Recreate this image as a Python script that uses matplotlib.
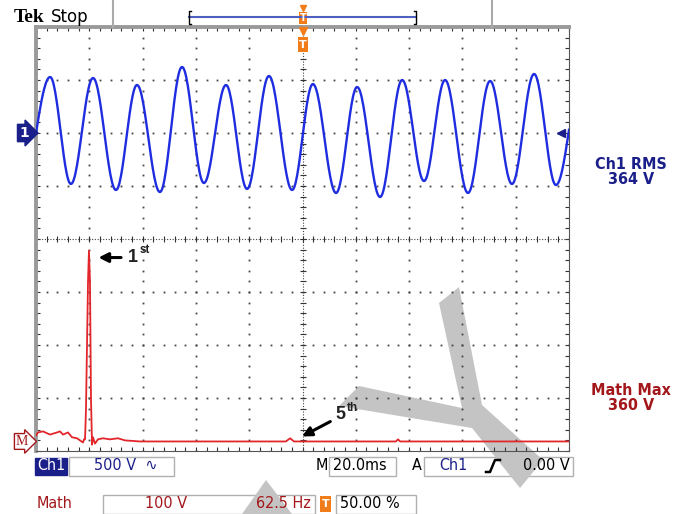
import numpy as np
import matplotlib.pyplot as plt
import matplotlib.transforms as mtransforms
from matplotlib.patches import Polygon, Rectangle
from matplotlib.lines import Line2D

# scope settings
ms_per_div = 20.0
ch1_v_per_div = 500.0
ch1_pos = 2.0          # divisions above centre
math_hz_per_div = 62.5
math_v_per_div = 100.0
math_pos = -3.82

# Ch1 trace: extrema (ms, V)
ch1_start = (0.0, 0.0)
ch1_end = (200.0, 30.0)
ch1_peak_t = [5.3, 21.4, 37.9, 54.8, 71.3, 87.4, 103.9, 120.5, 137.4, 153.5, 170.4, 186.9]
ch1_peak_v = [528, 519, 453, 623, 453, 538, 462, 434, 500, 500, 491, 557]
ch1_trough_t = [13.1, 30.0, 46.5, 63.0, 79.2, 96.1, 112.6, 129.1, 145.6, 162.1, 178.6, 195.1]
ch1_trough_v = [-481, -538, -557, -472, -528, -538, -566, -604, -453, -566, -481, -491]

# Math (FFT of Ch1): frequency (Hz), magnitude (V)
fft_freq = [0, 2.3, 8.2, 16.4, 24.6, 28.1, 31.7, 37.5, 42.2, 48.1, 51.6, 55.1, 56.3, 57.5,
            58.6, 59.8, 61.0, 62.1, 63.3, 64.5, 65.7, 66.8, 69.2, 72.7, 78.6, 86.8, 96.2,
            104.4, 122, 293, 298, 302.5, 422, 424.5, 427, 625]
fft_mag = [11, 17, 19, 13, 17, 19, 13, 17, 8, 6, 2, -2, 4, 4,
           60, 181, 302, 360, 302, 79, -6, 8, -4, 4, 6, 4, 6,
           2, 0, 0, 6, 0, 0, 4, 0, 0]

ch1_rms = "364 V"
math_max = "360 V"

W, H = 684, 514
NAVY = '#1a1f8a'
BLUE = '#1f2de0'
RED = '#e3262b'
DRED = '#a3171b'
ORANGE = '#f07d1a'
FONT = 'DejaVu Sans'
COND = dict(family=FONT, stretch='condensed')


def P(x, y):
    return (x / W, 1 - y / H)


fig = plt.figure(figsize=(W / 100, H / 100), dpi=100)
L, R, T, B = 36, 569, 27, 451
rect = [L / W, 1 - B / H, (R - L) / W, (B - T) / H]

# graticule
ax = fig.add_axes(rect)
ax.patch.set_visible(False)
ax.set_xlim(0, 10)
ax.set_ylim(-4, 4)
ax.set_xticks(np.arange(0, 10.01, 0.2))
ax.set_yticks(np.arange(-4, 4.01, 0.2))
ax.tick_params(direction='in', length=3, width=0.8, color='#333', top=True, right=True,
               labelbottom=False, labelleft=False)
for s in ['left', 'top']:
    ax.spines[s].set_color('#9a9a9a')
    ax.spines[s].set_linewidth(2.8)
for s in ['right', 'bottom']:
    ax.spines[s].set_color('#555')
    ax.spines[s].set_linewidth(0.8)
fine = np.arange(0, 10.001, 0.2)
fine_y = np.arange(-4, 4.001, 0.2)
for k in range(-3, 4):
    if k != 0:
        ax.plot(fine, np.full_like(fine, k), ls='none', marker='s', ms=1.3, color='#444', mew=0)
for k in range(1, 10):
    if k != 5:
        ax.plot(np.full_like(fine_y, k), fine_y, ls='none', marker='s', ms=1.3, color='#444', mew=0)
ax.plot([0, 10], [0, 0], ls=(0, (1, 1.5)), lw=0.8, color='#444')
ax.plot([5, 5], [-4, 4], ls=(0, (1, 1.5)), lw=0.8, color='#444')
ax.plot(fine, np.zeros_like(fine), ls='none', marker='|', ms=4, mew=0.8, color='#333')
ax.plot(np.full_like(fine_y, 5), fine_y, ls='none', marker='_', ms=4, mew=0.8, color='#333')
ax.set_zorder(0)

# watermark, under the graticule and traces
wm = Polygon([P(439, 303), P(459, 287), P(482, 405), P(543, 460), P(520, 488), P(472, 428),
              P(339, 406), P(359, 386), P(462, 408)], closed=True, transform=fig.transFigure,
             fc='#c4c4c4', ec='none', zorder=0.1, clip_on=False)
ax.add_artist(wm)
wm2 = Polygon([P(242, 514), P(266, 480), P(292, 514)], closed=True, transform=fig.transFigure,
              fc='#c4c4c4', ec='none', zorder=0.1, clip_on=False)
ax.add_artist(wm2)

# Ch1 trace
ax_ch1 = fig.add_axes(rect, frameon=False)
ax_ch1.set_xlim(0, 10 * ms_per_div)
ax_ch1.set_ylim((-4 - ch1_pos) * ch1_v_per_div, (4 - ch1_pos) * ch1_v_per_div)
ax_ch1.axis('off')
ax_ch1.set_zorder(1)
pts = [ch1_start]
for i in range(len(ch1_peak_t)):
    pts.append((ch1_peak_t[i], ch1_peak_v[i]))
    pts.append((ch1_trough_t[i], ch1_trough_v[i]))
pts.append(ch1_end)
tt, vv = [], []
for i in range(len(pts) - 1):
    (t0, v0), (t1, v1) = pts[i], pts[i + 1]
    s = np.linspace(0, 1, 30)
    if i == 0:
        w = np.sin(np.pi / 2 * s)
    elif i == len(pts) - 2:
        w = 1 - np.cos(np.pi / 2 * s)
    else:
        w = (1 - np.cos(np.pi * s)) / 2
    tt.extend(t0 + (t1 - t0) * s)
    vv.extend(v0 + (v1 - v0) * w)
ax_ch1.plot(tt, vv, color=BLUE, lw=1.7)
ax_ch1.plot(0.985 * 10 * ms_per_div, 0, marker='<', ms=6, color=NAVY, clip_on=False)

# Math trace
ax_m = fig.add_axes(rect, frameon=False)
ax_m.set_xlim(0, 10 * math_hz_per_div)
ax_m.set_ylim((-4 - math_pos) * math_v_per_div, (4 - math_pos) * math_v_per_div)
ax_m.axis('off')
ax_m.set_zorder(1)
ax_m.plot(fft_freq, fft_mag, color=RED, lw=1.3)

# harmonic labels
ax_m.annotate('', xy=(70, 347), xytext=(103, 347),
              arrowprops=dict(arrowstyle='-|>', lw=2.2, color='k', mutation_scale=14))
ax_m.text(108, 347, '1', fontsize=13, fontweight='bold', family='Liberation Sans', va='center', color='#222')
ax_m.text(121, 361, 'st', fontsize=8.5, fontweight='bold', family='Liberation Sans', va='center', color='#222')
ax_m.annotate('', xy=(309, 7), xytext=(348, 40),
              arrowprops=dict(arrowstyle='-|>', lw=2.2, color='k', mutation_scale=14))
ax_m.text(351, 50, '5', fontsize=13, fontweight='bold', family='Liberation Sans', va='center', color='#222')
ax_m.text(364, 64, 'th', fontsize=8.5, fontweight='bold', family='Liberation Sans', va='center', color='#222')

# channel markers on the left
tr1 = mtransforms.blended_transform_factory(fig.transFigure, ax_ch1.transData)
fig.text(24 / W, 0, '1', transform=tr1, ha='center', va='center', color='white', fontsize=10,
         fontweight='bold', bbox=dict(boxstyle='rarrow,pad=0.12', fc=NAVY, ec=NAVY))
trm = mtransforms.blended_transform_factory(fig.transFigure, ax_m.transData)
fig.text(22 / W, 0, 'M', transform=trm, ha='center', va='center', color=DRED, fontsize=10,
         family='Liberation Serif', bbox=dict(boxstyle='rarrow,pad=0.1', fc='white', ec=DRED, lw=1))

# header
fig.text(*P(14, 17), 'Tek', fontsize=14, fontweight='bold', va='center', color='black',
         family='Liberation Serif')
fig.text(*P(51, 17), 'Stop', fontsize=12, va='center', family=FONT, color='black')
fig.add_artist(Line2D([113 / W, 113 / W], [1, 1 - 27 / H], color='#aaa', lw=1.5))
fig.add_artist(Line2D([492 / W, 492 / W], [1, 1 - 27 / H], color='#aaa', lw=1.5))
fig.add_artist(Line2D([189 / W, 416 / W], [1 - 17 / H] * 2, color='#5060c0', lw=1.5))
fig.add_artist(Line2D([191 / W, 189 / W, 189 / W, 191 / W],
                      [1 - 11 / H, 1 - 11 / H, 1 - 24 / H, 1 - 24 / H], color='k', lw=1))
fig.add_artist(Line2D([414 / W, 416 / W, 416 / W, 414 / W],
                      [1 - 11 / H, 1 - 11 / H, 1 - 24 / H, 1 - 24 / H], color='k', lw=1))
fig.add_artist(Rectangle(P(299, 24), 8 / W, 12 / H, transform=fig.transFigure, fc=ORANGE, ec='none'))
fig.text(*P(303, 18), 'T', fontsize=7, fontweight='bold', color='white', ha='center', va='center')
fig.add_artist(Line2D([303 / W], [1 - 8 / H], marker='v', ms=5, color=ORANGE, transform=fig.transFigure))
fig.add_artist(Line2D([303 / W], [1 - 31 / H], marker='v', ms=6, color=ORANGE, transform=fig.transFigure))
fig.add_artist(Rectangle(P(298, 52), 10 / W, 15 / H, transform=fig.transFigure, fc=ORANGE, ec='none'))
fig.text(*P(303, 45), 'T', fontsize=8, fontweight='bold', color='white', ha='center', va='center')

# readouts on the right
fig.text(*P(631, 172), 'Ch1 RMS\n' + ch1_rms, ha='center', va='center', color=NAVY,
         fontsize=11.5, fontweight='bold', linespacing=1.0, **COND)
fig.text(*P(631, 398), 'Math Max\n' + math_max, ha='center', va='center', color=DRED,
         fontsize=11.5, fontweight='bold', linespacing=1.0, **COND)


# status bar
def box(x0, x1, y0, y1, fc='white', ec='#b0b0b0'):
    fig.add_artist(Rectangle(P(x0, y1), (x1 - x0) / W, (y1 - y0) / H, transform=fig.transFigure,
                             fc=fc, ec=ec, lw=1, zorder=-1))


box(35, 67, 458, 475, fc=NAVY, ec=NAVY)
fig.text(*P(51, 466), 'Ch1', ha='center', va='center', color='white', fontsize=11.5, **COND)
box(69, 174, 457, 476)
fig.text(*P(94, 466), '500 V  \u223f', va='center', color=NAVY, fontsize=11.5, **COND)
fig.text(*P(328, 466), 'M', ha='right', va='center', color='black', fontsize=11.5, **COND)
box(329, 396, 457, 476)
fig.text(*P(333, 466), '20.0ms', va='center', color='black', fontsize=11.5, **COND)
fig.text(*P(417, 466), 'A', ha='center', va='center', color='black', fontsize=11.5, **COND)
box(424, 573, 457, 476)
fig.text(*P(439, 466), 'Ch1', va='center', color=NAVY, fontsize=11.5, **COND)
fig.add_artist(Line2D([486 / W, 490 / W, 495 / W, 500 / W],
                      [1 - 472 / H, 1 - 472 / H, 1 - 460 / H, 1 - 460 / H], color='k', lw=1.8))
fig.text(*P(570, 466), '0.00 V', ha='right', va='center', color='black', fontsize=11.5, **COND)

fig.text(*P(37, 504), 'Math', va='center', color=DRED, fontsize=11.5, **COND)
box(103, 315, 495, 514)
fig.text(*P(145, 504), '100 V', va='center', color=DRED, fontsize=11.5, **COND)
fig.text(*P(311, 504), '62.5 Hz', ha='right', va='center', color=DRED, fontsize=11.5, **COND)
fig.add_artist(Rectangle(P(320, 512), 11 / W, 16 / H, transform=fig.transFigure, fc=ORANGE, ec='none'))
fig.text(*P(325.5, 504), 'T', ha='center', va='center', color='white', fontsize=8, fontweight='bold')
box(336, 416, 495, 514)
fig.text(*P(340, 504), '50.00 %', va='center', color='black', fontsize=11.5, **COND)

fig.savefig('out.png', dpi=100, facecolor='white')
